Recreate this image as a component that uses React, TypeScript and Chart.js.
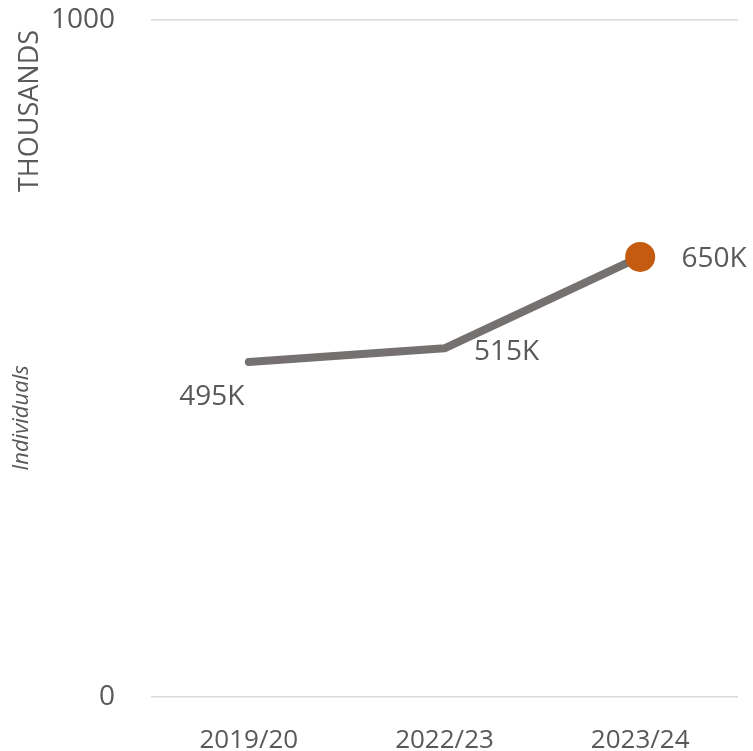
import React, { useEffect, useRef } from "react";
import { Chart, registerables } from "chart.js";

Chart.register(...registerables);

const categories = ["2019/20", "2022/23", "2023/24"];
const values = [495, 515, 650];
const valueLabels = ["495K", "515K", "650K"];
const yTicks = [0, 1000];
const axisTitleTop = "THOUSANDS";
const axisTitleMid = "Individuals";

const FONT = "'Open Sans', 'Noto Sans', sans-serif";
const TEXT = "#595959";

const labelOffsets = [
  { dx: -37, dy: 35 },
  { dx: 62, dy: 4 },
  { dx: 74, dy: 2 },
];

const labelsPlugin = {
  id: "customLabels",
  afterDatasetsDraw(chart: any) {
    const ctx = chart.ctx;
    const meta = chart.getDatasetMeta(0);
    ctx.save();
    ctx.font = `28px ${FONT}`;
    ctx.fillStyle = TEXT;
    ctx.textAlign = "center";
    ctx.textBaseline = "middle";
    meta.data.forEach((pt: any, i: number) => {
      const o = labelOffsets[i];
      ctx.fillText(valueLabels[i], pt.x + o.dx, pt.y + o.dy);
    });
    ctx.restore();
  },
  afterDraw(chart: any) {
    const ctx = chart.ctx;
    ctx.save();
    ctx.fillStyle = TEXT;
    ctx.textAlign = "center";
    ctx.textBaseline = "middle";
    ctx.translate(30, 111);
    ctx.rotate(-Math.PI / 2);
    ctx.font = `27px ${FONT}`;
    ctx.fillText(axisTitleTop, 0, 0);
    ctx.restore();
    ctx.save();
    ctx.fillStyle = TEXT;
    ctx.textAlign = "center";
    ctx.textBaseline = "middle";
    ctx.translate(22, 418);
    ctx.rotate(-Math.PI / 2);
    ctx.font = `italic 22px ${FONT}`;
    ctx.fillText(axisTitleMid, 0, 0);
    ctx.restore();
  },
};

export default function App() {
  const ref = useRef<HTMLCanvasElement>(null);
  useEffect(() => {
    document.body.style.margin = "0";
    const chart = new Chart(ref.current!, {
      type: "line",
      data: {
        labels: categories,
        datasets: [
          {
            data: values,
            borderColor: "#767171",
            borderWidth: 8,
            borderCapStyle: "round",
            borderJoinStyle: "round",
            pointRadius: values.map((_, i) => (i === values.length - 1 ? 15 : 0)),
            pointBackgroundColor: "#C55A11",
            pointBorderColor: "#C55A11",
            pointBorderWidth: 0,
            tension: 0,
          },
        ],
      },
      options: {
        animation: false,
        responsive: false,
        maintainAspectRatio: false,
        layout: { padding: { left: 0, right: 12, top: 20, bottom: 0 } },
        plugins: {
          legend: { display: false },
          tooltip: { enabled: false },
        },
        scales: {
          x: {
            offset: true,
            grid: { display: false },
            border: { display: false },
            ticks: {
              color: TEXT,
              font: { family: FONT, size: 26 },
              padding: 20,
              maxRotation: 0,
            },
            afterFit: (s: any) => {
              s.height = 54;
              s.paddingLeft = 0;
              s.paddingRight = 0;
            },
          },
          y: {
            min: 0,
            max: 1000,
            afterBuildTicks: (s: any) => {
              s.ticks = yTicks.map((v) => ({ value: v }));
            },
            grid: { color: "#d9d9d9", lineWidth: 1.5, drawTicks: false },
            border: { display: false },
            ticks: {
              color: TEXT,
              font: { family: FONT, size: 28, lineHeight: 1.2 },
              padding: 36,
              callback: (v: any) => String(v),
            },
            afterFit: (s: any) => {
              s.width = 151;
              s.paddingTop = 0;
              s.paddingBottom = 0;
            },
          },
        },
      },
      plugins: [labelsPlugin],
    });
    return () => chart.destroy();
  }, []);
  return (
    <div style={{ width: 753, height: 751 }}>
      <canvas ref={ref} width={753} height={751} style={{ display: "block" }} />
    </div>
  );
}
